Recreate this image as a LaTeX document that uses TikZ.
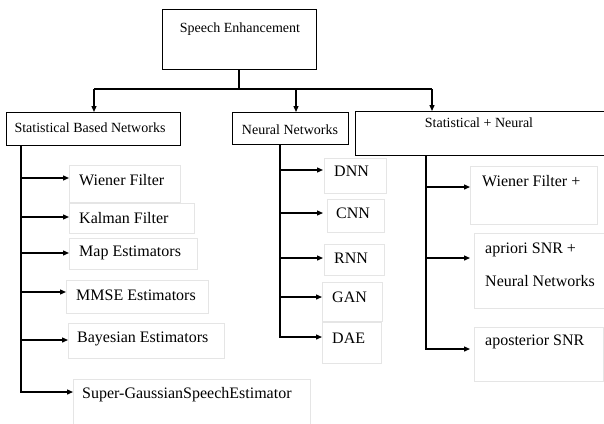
\documentclass[tikz,border=0pt]{standalone}
\usepackage{fontspec}
\setmainfont{Liberation Serif}
\usetikzlibrary{arrows.meta}
\begin{document}
\begin{tikzpicture}[x=1pt,y=-1pt,
  mainbox/.style={draw=black,line width=1.1pt,inner sep=0pt,anchor=north west},
  cbox/.style={draw=black!10,line width=0.6pt,inner sep=0pt,anchor=north west},
  htxt/.style={inner sep=0pt,anchor=west,font=\fontsize{14}{16}\selectfont},
  ctxt/.style={inner sep=0pt,anchor=west,font=\fontsize{16}{18}\selectfont},
  link/.style={line width=1.3pt},
  arr/.style={line width=1.3pt,-{Triangle[length=6pt,width=5pt]}}]
\useasboundingbox (0,0) rectangle (604,423);
% top
\node[mainbox,minimum width=154pt,minimum height=60pt] (se) at (162,9) {};
\node[htxt,anchor=center] (set) at (240,29) {Speech Enhancement};
% level 1
\node[mainbox,minimum width=174pt,minimum height=33pt] (sbn) at (6,112) {};
\node[htxt,anchor=center] (sbnt) at (90,128) {Statistical Based Networks};
\node[mainbox,minimum width=116pt,minimum height=32pt] (nn) at (232,112) {};
\node[htxt,anchor=center] (nnt) at (290,130) {Neural Networks};
\node[mainbox,minimum width=250pt,minimum height=44pt] (sn) at (355,111) {};
\node[htxt,anchor=center] (snt) at (479,123) {Statistical + Neural};
% top connectors
\coordinate (hub) at (239,89);
\draw[link] (se.south -| hub) -- (hub);
\draw[link] (94,89) -- (432,89);
\coordinate (h1) at (94,89);
\coordinate (h2) at (296,89);
\coordinate (h3) at (432,89);
\draw[arr] (h1) -- (h1 |- sbn.north);
\draw[arr] (h2) -- (h2 |- nn.north);
\draw[arr] (h3) -- (h3 |- sn.north);
% left column
\node[cbox,minimum width=111pt,minimum height=37pt] (b1) at (69,165) {};
\node[ctxt] (t1) at (79,180) {Wiener Filter};
\node[cbox,minimum width=125pt,minimum height=30pt] (b2) at (69,203) {};
\node[ctxt] (t2) at (79,218) {Kalman Filter};
\node[cbox,minimum width=128pt,minimum height=31pt] (b3) at (69,238) {};
\node[ctxt] (t3) at (79,253) {Map Estimators};
\node[cbox,minimum width=142pt,minimum height=33pt] (b4) at (66,280) {};
\node[ctxt] (t4) at (76,295) {MMSE Estimators};
\node[cbox,minimum width=156pt,minimum height=35pt] (b5) at (68,323) {};
\node[ctxt] (t5) at (77,339) {Bayesian Estimators};
\node[cbox,minimum width=237pt,minimum height=50pt] (b6) at (73,379) {};
\node[ctxt] (t6) at (82,395) {Super-GaussianSpeechEstimator};
\coordinate (l0) at (21,145);
\coordinate (l1) at (21,178);
\coordinate (l2) at (21,217);
\coordinate (l3) at (21,253);
\coordinate (l4) at (21,292);
\coordinate (l5) at (21,340);
\coordinate (l6) at (21,392);
\draw[link] (l0) -- (l6);
\draw[arr] (l1) -- (b1.west |- l1);
\draw[arr] (l2) -- (b2.west |- l2);
\draw[arr] (l3) -- (b3.west |- l3);
\draw[arr] (l4) -- (b4.west |- l4);
\draw[arr] (l5) -- (b5.west |- l5);
\draw[arr] ([xshift=-0.65pt]l6) -- (b6.west |- l6);
% middle column
\node[cbox,minimum width=62pt,minimum height=35pt] (d1) at (324,158) {};
\node[ctxt] (u1) at (334,171) {DNN};
\node[cbox,minimum width=57pt,minimum height=33pt] (d2) at (327,199) {};
\node[ctxt] (u2) at (336,213) {CNN};
\node[cbox,minimum width=60pt,minimum height=31pt] (d3) at (324,244) {};
\node[ctxt] (u3) at (334,258) {RNN};
\node[cbox,minimum width=60pt,minimum height=39pt] (d4) at (322,282) {};
\node[ctxt] (u4) at (332,297) {GAN};
\node[cbox,minimum width=59pt,minimum height=41pt] (d5) at (322,322) {};
\node[ctxt] (u5) at (332,338) {DAE};
\coordinate (m0) at (280,144);
\coordinate (m1) at (280,170);
\coordinate (m2) at (280,213);
\coordinate (m3) at (280,258);
\coordinate (m4) at (280,297);
\coordinate (m5) at (280,337);
\draw[link] (m0) -- (m5);
\draw[arr] (m1) -- ([xshift=-1pt]d1.west |- m1);
\draw[arr] (m2) -- ([xshift=-4pt]d2.west |- m2);
\draw[arr] (m3) -- ([xshift=-1pt]d3.west |- m3);
\draw[arr] (m4) -- (d4.west |- m4);
\draw[arr] ([xshift=-0.65pt]m5) -- (d5.west |- m5);
% right column
\node[cbox,minimum width=127pt,minimum height=58pt] (e1) at (470,166) {};
\node[ctxt] (v1) at (482,181) {Wiener Filter +};
\node[cbox,minimum width=130pt,minimum height=75pt] (e2) at (474,233) {};
\node[ctxt] (v2) at (485,250) {apriori SNR +};
\node[ctxt] (v2b) at (485,281) {Neural Networks};
\node[cbox,minimum width=129pt,minimum height=54pt] (e3) at (474,327) {};
\node[ctxt] (v3) at (485,342) {aposterior SNR};
\coordinate (r0) at (426,155);
\coordinate (r1) at (426,187);
\coordinate (r2) at (426,258);
\coordinate (r3) at (426,349);
\draw[link] (r0) -- (r3);
\draw[arr] (r1) -- (e1.west |- r1);
\draw[arr] (r2) -- ([xshift=-4pt]e2.west |- r2);
\draw[arr] ([xshift=-0.65pt]r3) -- ([xshift=-4pt]e3.west |- r3);
\end{tikzpicture}
\end{document}
